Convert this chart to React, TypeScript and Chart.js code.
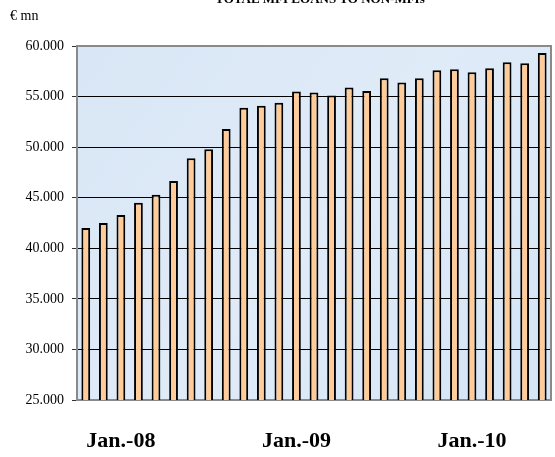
import React, { useEffect, useRef } from 'react';
import { Chart, registerables } from 'chart.js';

Chart.register(...registerables);

const categories = [
  '', '', 'Jan.-08', '', '', '', '', '', '', '', '', '', 'Jan.-09', '',
  '', '', '', '', '', '', '', '', 'Jan.-10', '', '', '', '',
];
const loans = [
  42000, 42500, 43300, 44500, 45300, 46650, 48900, 49800, 51800, 53900,
  54100, 54400, 55500, 55400, 55100, 55900, 55550, 56800, 56400, 56800,
  57600, 57700, 57400, 57800, 58400, 58300, 59300,
];
const yMin = 25000;
const yMax = 60000;
const yStep = 5000;
const title = 'TOTAL MFI LOANS TO NON-MFIs';
const unitLabel = '€ mn';

const fmt = (n: number) => {
  const th = Math.floor(n / 1000);
  const rest = String(Math.round(n % 1000)).padStart(3, '0');
  return `${th}.${rest}`;
};

const decorPlugin = {
  id: 'decor',
  beforeDraw(chart: any) {
    const { ctx, chartArea } = chart;
    const { left, top, right, bottom } = chartArea;
    ctx.save();
    const g = ctx.createLinearGradient(left, top, right, bottom);
    g.addColorStop(0, '#d8e6f5');
    g.addColorStop(0.5, '#e0ebf8');
    g.addColorStop(1, '#d4e5f6');
    ctx.fillStyle = g;
    ctx.fillRect(left, top, right - left, bottom - top);
    ctx.restore();
  },
  afterDraw(chart: any) {
    const { ctx, chartArea } = chart;
    const { left, top, right, bottom } = chartArea;
    ctx.save();
    ctx.strokeStyle = '#8a8a8a';
    ctx.lineWidth = 2;
    ctx.beginPath();
    ctx.moveTo(left, top);
    ctx.lineTo(right, top);
    ctx.lineTo(right, bottom);
    ctx.stroke();
    ctx.fillStyle = '#000';
    ctx.font = 'bold 13px "Liberation Serif", "Times New Roman", serif';
    ctx.textAlign = 'center';
    ctx.textBaseline = 'alphabetic';
    ctx.fillText(title, 320, 3);
    ctx.font = '14px "Liberation Serif", "Times New Roman", serif';
    ctx.textAlign = 'left';
    ctx.fillText(unitLabel, 10, 20);
    ctx.restore();
  },
};

export default function App() {
  const ref = useRef<HTMLCanvasElement>(null);
  useEffect(() => {
    if (!ref.current) return;
    const chart = new Chart(ref.current, {
      type: 'bar',
      data: {
        labels: categories,
        datasets: [
          {
            data: loans,
            backgroundColor: '#ffcc99',
            borderColor: '#000000',
            borderWidth: 2,
            borderSkipped: false,
            categoryPercentage: 1,
            barPercentage: 0.5,
          },
        ],
      },
      options: {
        responsive: false,
        animation: false,
        devicePixelRatio: 1,
        layout: { padding: { top: 46, right: 4, left: 0, bottom: 0 } },
        plugins: {
          legend: { display: false },
          title: { display: false },
          tooltip: { enabled: false },
        },
        scales: {
          x: {
            grid: { display: false, drawTicks: false },
            border: { display: true, color: '#8a8a8a', width: 2 },
            ticks: {
              autoSkip: false,
              maxRotation: 0,
              minRotation: 0,
              color: '#000',
              padding: 28,
              font: { family: '"Liberation Serif", "Times New Roman", serif', size: 22, weight: 'bold' },
            },
            afterFit: (s: any) => {
              s.height = 57;
              s.paddingLeft = 0;
              s.paddingRight = 0;
            },
          },
          y: {
            min: yMin,
            max: yMax,
            grid: {
              color: (c: any) =>
                c.tick && (c.tick.value === yMin || c.tick.value === yMax) ? 'rgba(0,0,0,0)' : '#000000',
              lineWidth: 1,
              tickLength: 5,
              tickColor: '#333333',
            },
            border: { display: true, color: '#8a8a8a', width: 2 },
            ticks: {
              stepSize: yStep,
              color: '#000',
              padding: 8,
              font: { family: '"Liberation Serif", "Times New Roman", serif', size: 14 },
              callback: (v: any) => fmt(Number(v)),
            },
            afterFit: (s: any) => {
              s.width = 77;
            },
          },
        },
      },
      plugins: [decorPlugin],
    });
    return () => chart.destroy();
  }, []);
  return (
    <canvas
      ref={ref}
      width={555}
      height={457}
      style={{ position: 'absolute', left: 0, top: 0, display: 'block' }}
    />
  );
}
